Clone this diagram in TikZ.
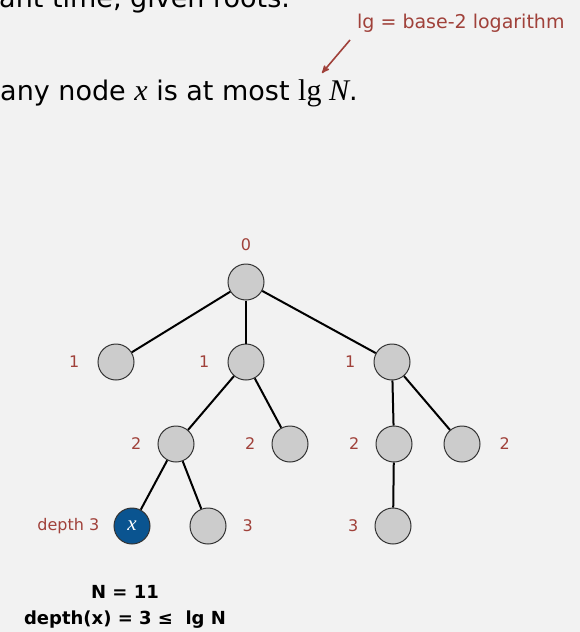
\documentclass[tikz,border=0pt]{standalone}
\usepackage{fontspec}
\setmainfont{DejaVu Sans}
\newfontfamily\serifx{Liberation Serif}
\newfontfamily\dejavu{DejaVu Sans}
\usepackage{xcolor}
\usetikzlibrary{arrows,positioning}
\definecolor{bggray}{HTML}{F2F2F2}
\definecolor{lvlred}{RGB}{160,65,58}
\definecolor{xblue}{RGB}{10,84,144}
\definecolor{nodegray}{HTML}{CCCCCC}

\begin{document}
\begin{tikzpicture}[
    x=1pt, y=-1pt,
    vertex/.style={circle, draw=black!80, fill=nodegray, line width=1pt, minimum size=36pt, inner sep=0pt},
    marked/.style={vertex, fill=xblue, text=white},
    link/.style={line width=2pt},
    lvl/.style={text=lvlred, inner sep=0pt, font=\fontsize{16}{18}\selectfont},
    pointer/.style={->, >=stealth', line width=1.6pt, draw=lvlred}
]
    \fill[bggray] (0,0) rectangle (580,632);
    \useasboundingbox (0,0) rectangle (580,632);

    % slide text
    \node[anchor=base west, inner sep=0pt, font=\fontsize{27}{30}\selectfont] (prev) at (-1,7) {ant time, given roots.};
    \node[anchor=base west, inner sep=0pt, font=\fontsize{27}{30}\selectfont] (claim) at (0,100)
        {any node {\serifx\itshape\fontsize{30}{30}\selectfont x} is at most {\serifx\fontsize{30}{30}\selectfont lg \itshape N}.};
    \node[lvl, anchor=base west, font=\fontsize{19}{22}\selectfont] (lgnote) at (357,28) {lg = base-2 logarithm};
    \coordinate (lgstart) at (350,40);
    \coordinate (lgtip) at (322,73);
    \draw[pointer] (lgstart) -- (lgtip);

    % tree
    \node[vertex] (root) at (246,282) {};
    \node[vertex] (a) at (116,362) {};
    \node[vertex] (b) at (246,362) {};
    \node[vertex] (c) at (392,362) {};
    \node[vertex] (d) at (176,444) {};
    \node[vertex] (e) at (290,444) {};
    \node[vertex] (f) at (394,444) {};
    \node[vertex] (g) at (462,444) {};
    \node[marked] (x) at (132,526) {\serifx\itshape\fontsize{21}{21}\selectfont x};
    \node[vertex] (h) at (208,526) {};
    \node[vertex] (i) at (393,526) {};

    \draw[link] (root) -- (a);
    \draw[link] (root) -- (b);
    \draw[link] (root) -- (c);
    \draw[link] (b) -- (d);
    \draw[link] (b) -- (e);
    \draw[link] (c) -- (f);
    \draw[link] (c) -- (g);
    \draw[link] (d) -- (x);
    \draw[link] (d) -- (h);
    \draw[link] (f) -- (i);

    % depths
    \node[lvl, above=13pt of root] (lroot) {0};
    \node[lvl, left=18pt of a] (la) {1};
    \node[lvl, left=18pt of b] (lb) {1};
    \node[lvl, left=18pt of c] (lc) {1};
    \node[lvl, left=16pt of d] (ld) {2};
    \node[lvl, left=16pt of e] (le) {2};
    \node[lvl, left=16pt of f] (lf) {2};
    \node[lvl, right=19pt of g] (lg) {2};
    \node[lvl, left=14pt of x] (lx) {depth 3};
    \node[lvl, right=16pt of h] (lh) {3};
    \node[lvl, left=16pt of i] (li) {3};

    \node[font=\bfseries\fontsize{18}{20}\selectfont] (count) at (125,592) {N = 11};
    \node[font=\bfseries\fontsize{18}{20}\selectfont] (bound) at (125,620) {depth(x) = 3 ≤ \ lg N};
\end{tikzpicture}
\end{document}
